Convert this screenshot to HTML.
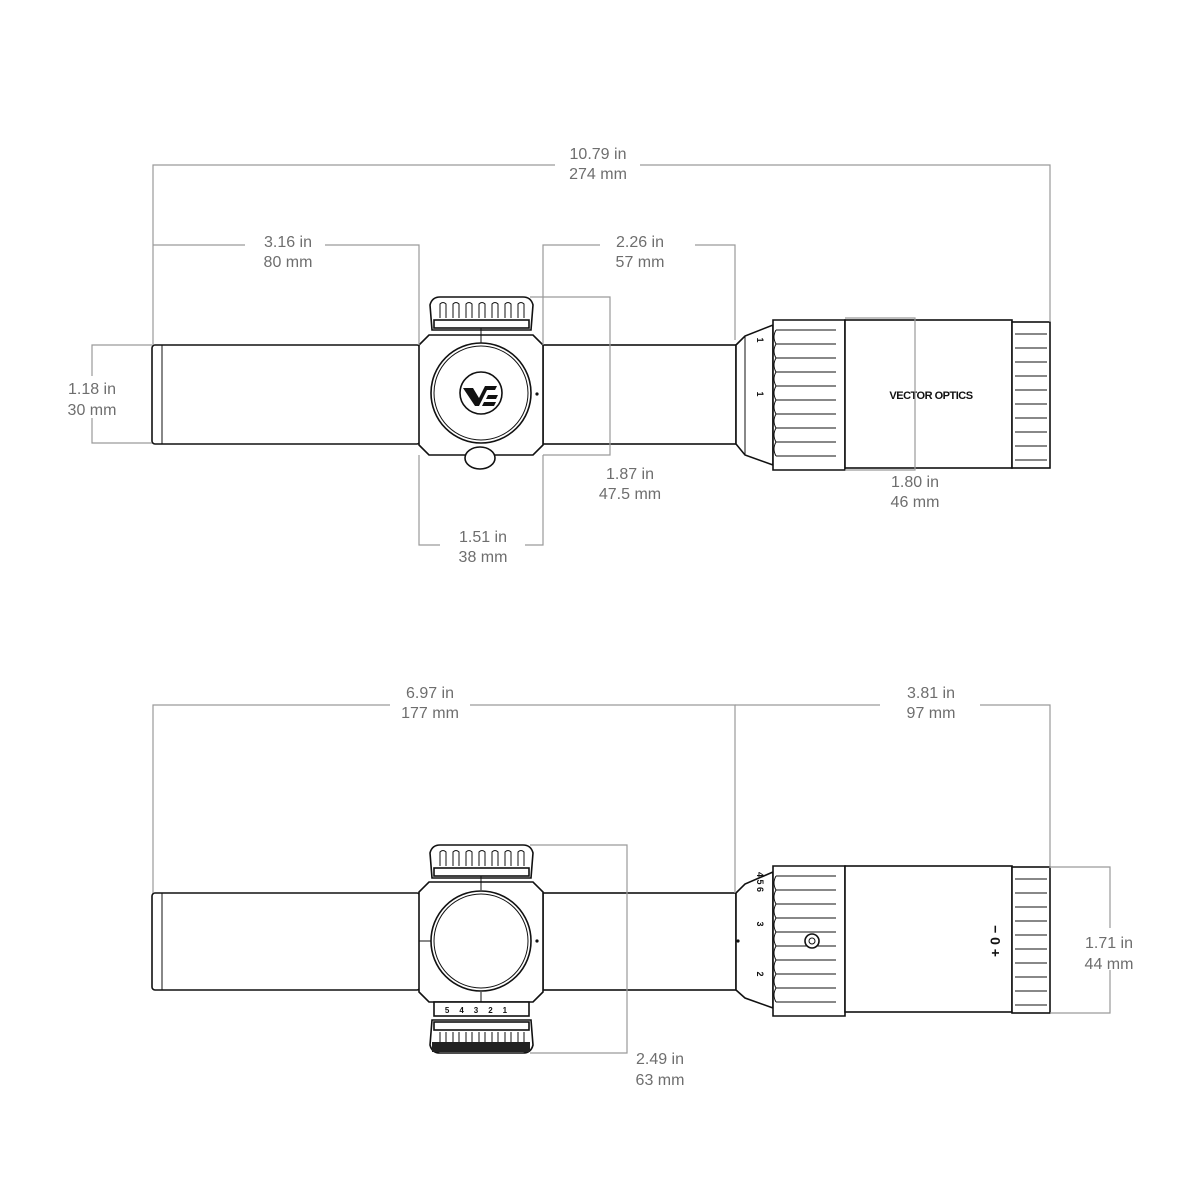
<!DOCTYPE html>
<html><head><meta charset="utf-8"><style>
html,body{margin:0;padding:0;background:#fff}
svg{display:block}
text{font-family:"Liberation Sans",sans-serif;font-size:16px;fill:#6e6e6e;text-anchor:middle}
.d{stroke:#9a9a9a;stroke-width:1.2;fill:none}
.s{stroke:#111;stroke-width:1.6;fill:#fff}
.t{stroke:#111;stroke-width:1;fill:none}
</style></head><body>
<svg width="1200" height="1200" viewBox="0 0 1200 1200">
<defs>
<g id="cap">
 <path class="s" d="M432,330 L430,305 Q432,297 440,297 L523,297 Q531,297 533,305 L531,330 Z"/>
 <rect class="s" x="434" y="320" width="95" height="8"/>
 <g class="t">
  <path d="M440,318 v-14 q3,-3 6,0 v14"/><path d="M453,318 v-14 q3,-3 6,0 v14"/><path d="M466,318 v-14 q3,-3 6,0 v14"/>
  <path d="M479,318 v-14 q3,-3 6,0 v14"/><path d="M492,318 v-14 q3,-3 6,0 v14"/><path d="M505,318 v-14 q3,-3 6,0 v14"/><path d="M518,318 v-14 q3,-3 6,0 v14"/>
 </g>
</g>
<g id="body">
 <path class="s" d="M429,335 L533,335 L543,345 L543,445 L533,455 L429,455 L419,445 L419,345 Z"/>
</g>
<g id="ring">
 <path class="s" d="M773,0 L845,0 L845,150 L773,150 Z"/>
 <g class="t">
  <path d="M776,10 h60 M776,24 h60 M776,38 h60 M776,52 h60 M776,66 h60 M776,80 h60 M776,94 h60 M776,108 h60 M776,122 h60 M776,136 h60"/>
  <path d="M776,10 q-4,7 0,14 M776,24 q-4,7 0,14 M776,38 q-4,7 0,14 M776,52 q-4,7 0,14 M776,66 q-4,7 0,14 M776,80 q-4,7 0,14 M776,94 q-4,7 0,14 M776,108 q-4,7 0,14 M776,122 q-4,7 0,14"/>
 </g>
</g>
<g id="rib2">
 <rect class="s" x="1012" y="0" width="38" height="146"/>
 <g class="t"><path d="M1015,12 h32 M1015,26 h32 M1015,40 h32 M1015,54 h32 M1015,68 h32 M1015,82 h32 M1015,96 h32 M1015,110 h32 M1015,124 h32 M1015,138 h32"/></g>
</g>
</defs>

<!-- TOP SCOPE -->
<rect class="s" x="152" y="345" width="268" height="99" rx="3"/>
<line class="t" x1="162" y1="345" x2="162" y2="444"/>
<rect class="s" x="543" y="345" width="193" height="99"/>
<use href="#cap"/>
<use href="#body"/>
<line class="t" x1="481" y1="328" x2="481" y2="343"/>
<circle class="s" cx="481" cy="393" r="50" stroke-width="2.4"/>
<circle class="t" cx="481" cy="393" r="47"/>
<circle class="s" cx="481" cy="393" r="21" stroke-width="1.6"/>
<path d="M463,388 h10 l6,10 l6,-12 h12 l-2,4 h-8 l-8,16 h-4 z M488,395 h10 l-2,4 h-10 z M484,402 h12 l-2,4 h-12 z" fill="#111"/>
<circle cx="537" cy="394" r="1.6" fill="#111"/>
<ellipse class="s" cx="480" cy="458" rx="15" ry="11" stroke-width="2"/>
<path class="s" d="M736,345 L745,336 L773,325 L773,465 L745,455 L736,444 Z"/>
<line class="t" x1="745" y1="336" x2="745" y2="455"/>
<use href="#ring" transform="translate(0,320)"/>
<rect class="s" x="845" y="320" width="167" height="148"/>
<use href="#rib2" transform="translate(0,322)"/>
<text x="760" y="343" style="font-size:9px;fill:#111;font-weight:bold" transform="rotate(90 760 340)">1</text>
<text x="760" y="397" style="font-size:9px;fill:#111;font-weight:bold" transform="rotate(90 760 394)">1</text>
<text x="931" y="399" style="font-size:11px;fill:#111;font-weight:bold;letter-spacing:-0.5px">VECTOR OPTICS</text>

<!-- top dims -->
<path class="d" d="M153,345 V165 H555 M640,165 H1050 V322"/>
<text x="598" y="159">10.79 in</text><text x="598" y="179">274 mm</text>
<path class="d" d="M153,245 H245 M325,245 H419 V345"/>
<text x="288" y="247">3.16 in</text><text x="288" y="267">80 mm</text>
<path class="d" d="M543,345 V245 H600 M695,245 H735 V340"/>
<text x="640" y="247">2.26 in</text><text x="640" y="267">57 mm</text>
<path class="d" d="M152,345 H92 V443 H152"/>
<rect x="60" y="376" width="64" height="42" fill="#fff"/>
<text x="92" y="394">1.18 in</text><text x="92" y="415">30 mm</text>
<path class="d" d="M530,297 H610 V455 H543"/>
<text x="630" y="479">1.87 in</text><text x="630" y="499">47.5 mm</text>
<path class="d" d="M419,455 V545 H440 M525,545 H543 V455"/>
<text x="483" y="542">1.51 in</text><text x="483" y="562">38 mm</text>
<path class="d" d="M845,318 H915 V470 H845"/>
<text x="915" y="487">1.80 in</text><text x="915" y="507">46 mm</text>

<!-- BOTTOM SCOPE -->
<rect class="s" x="152" y="893" width="268" height="97" rx="3"/>
<line class="t" x1="162" y1="893" x2="162" y2="990"/>
<rect class="s" x="543" y="893" width="193" height="97"/>
<use href="#cap" transform="translate(0,548)"/>
<use href="#body" transform="translate(0,547)"/>
<line class="t" x1="481" y1="876" x2="481" y2="890"/>
<line class="t" x1="481" y1="992" x2="481" y2="1002"/>
<line class="t" x1="419" y1="941" x2="432" y2="941"/>
<circle class="s" cx="481" cy="941" r="50" stroke-width="2.4"/>
<circle class="t" cx="481" cy="941" r="47"/>
<circle cx="537" cy="941" r="1.6" fill="#111"/>
<rect class="s" x="434" y="1002" width="95" height="14"/>
<use href="#cap" transform="translate(0,1350) scale(1,-1)"/>
<rect x="432" y="1042" width="98" height="10" fill="#222"/>
<text x="481" y="1013" style="font-size:8px;fill:#111;font-weight:bold;letter-spacing:10px">54321</text>
<path class="s" d="M736,893 L745,884 L773,872 L773,1008 L745,998 L736,990 Z"/>
<circle cx="738" cy="941" r="1.6" fill="#111"/>
<use href="#ring" transform="translate(0,866)"/>
<rect class="s" x="845" y="866" width="167" height="146"/>
<use href="#rib2" transform="translate(0,867)"/>
<circle class="s" cx="812" cy="941" r="7"/>
<circle class="t" cx="812" cy="941" r="3"/>
<text x="760" y="885" style="font-size:9px;fill:#111;font-weight:bold" transform="rotate(90 760 882)">4 5 6</text>
<text x="760" y="927" style="font-size:9px;fill:#111;font-weight:bold" transform="rotate(90 760 924)">3</text>
<text x="760" y="977" style="font-size:9px;fill:#111;font-weight:bold" transform="rotate(90 760 974)">2</text>
<text x="996" y="945" style="font-size:14px;fill:#111;font-weight:bold" transform="rotate(-90 996 941)">+ 0 −</text>

<!-- bottom dims -->
<path class="d" d="M153,893 V705 H390 M470,705 H735 V893"/>
<text x="430" y="698">6.97 in</text><text x="430" y="718">177 mm</text>
<path class="d" d="M735,705 H880 M980,705 H1050 V868"/>
<text x="931" y="698">3.81 in</text><text x="931" y="718">97 mm</text>
<path class="d" d="M530,845 H627 V1053 H530"/>
<text x="660" y="1064">2.49 in</text><text x="660" y="1085">63 mm</text>
<path class="d" d="M1050,867 H1110 V1013 H1050"/>
<rect x="1078" y="928" width="64" height="42" fill="#fff"/>
<text x="1109" y="948">1.71 in</text><text x="1109" y="969">44 mm</text>
</svg>
</body></html>
